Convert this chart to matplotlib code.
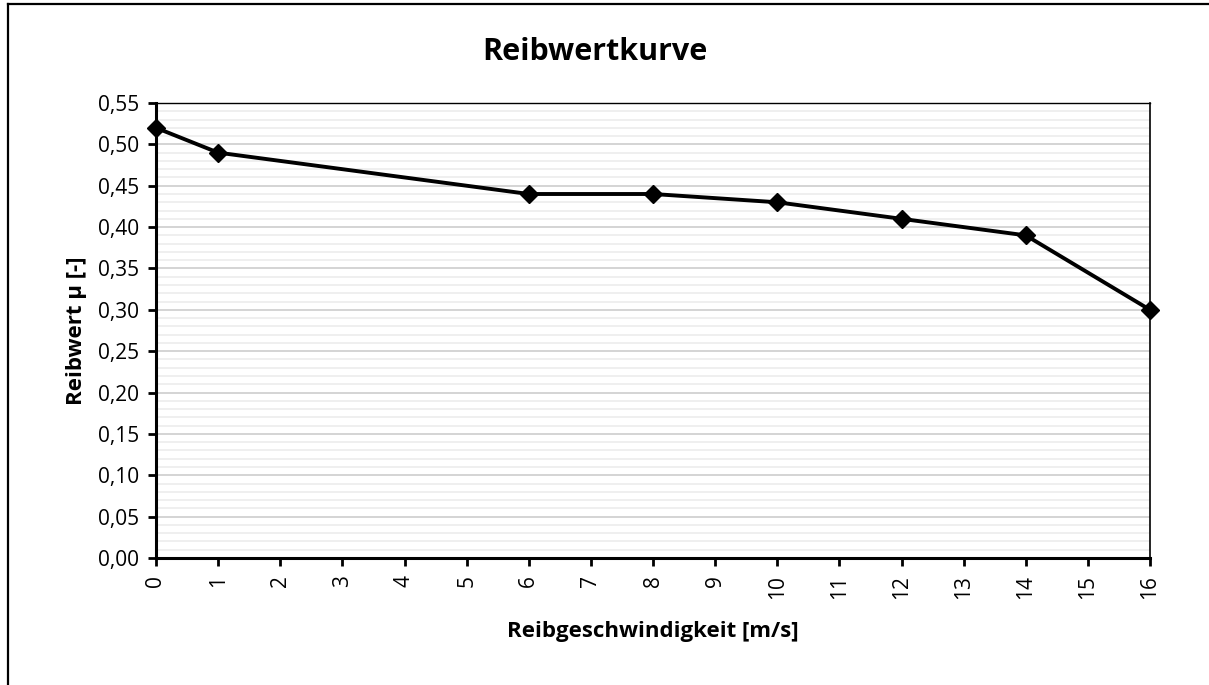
import matplotlib
matplotlib.use('Agg')
import matplotlib.pyplot as plt
from matplotlib.ticker import MultipleLocator, FuncFormatter
from matplotlib.lines import Line2D

plt.rcParams['font.family'] = ['Open Sans', 'DejaVu Sans']

geschw = [0, 1, 6, 8, 10, 12, 14, 16]
reibwert = [0.52, 0.49, 0.44, 0.44, 0.43, 0.41, 0.39, 0.30]

W, H = 1209, 685
fig = plt.figure(figsize=(W / 100, H / 100), dpi=100)
ax = fig.add_axes([156 / W, 1 - 558 / H, (1150 - 156) / W, (558 - 103) / H])

ax.plot(geschw, reibwert, color='black', lw=2.8, marker='D', ms=9, zorder=5, clip_on=False)

ax.set_xlim(0, 16)
ax.set_ylim(0, 0.55)
ax.xaxis.set_major_locator(MultipleLocator(1))
ax.yaxis.set_major_locator(MultipleLocator(0.05))
ax.yaxis.set_minor_locator(MultipleLocator(0.01))
ax.yaxis.set_major_formatter(FuncFormatter(lambda v, p: f'{v:.2f}'.replace('.', ',')))

ax.grid(which='major', axis='y', color='#d4d4d4', lw=1.4)
ax.grid(which='minor', axis='y', color='#efefef', lw=1.4)
ax.set_axisbelow(True)

ax.tick_params(axis='x', labelrotation=90, labelsize=15, length=6, width=2, direction='out', pad=6)
ax.tick_params(axis='y', which='major', labelsize=15, length=6, width=2, direction='out', pad=6)
ax.tick_params(axis='y', which='minor', length=0)

for s in ['left', 'bottom']:
    ax.spines[s].set_linewidth(2.2)
ax.spines['right'].set_linewidth(1.2)
ax.spines['top'].set_linewidth(1.0)

fig.text(595 / W, 1 - 52 / H, 'Reibwertkurve', fontsize=22, fontweight='bold',
         ha='center', va='center')
ax.set_xlabel('Reibgeschwindigkeit [m/s]', fontsize=16, fontweight='bold', labelpad=16)
ax.set_ylabel('Reibwert µ [-]', fontsize=16, fontweight='bold', labelpad=8)

# Rahmen (rechts und unten abgeschnitten)
x0, y0 = 8 / W, 1 - 4 / H
fig.add_artist(Line2D([x0, 1.0], [y0, y0], transform=fig.transFigure, color='black', lw=1.6))
fig.add_artist(Line2D([x0, x0], [0.0, y0], transform=fig.transFigure, color='black', lw=1.6))

fig.savefig('out.png', dpi=100)
